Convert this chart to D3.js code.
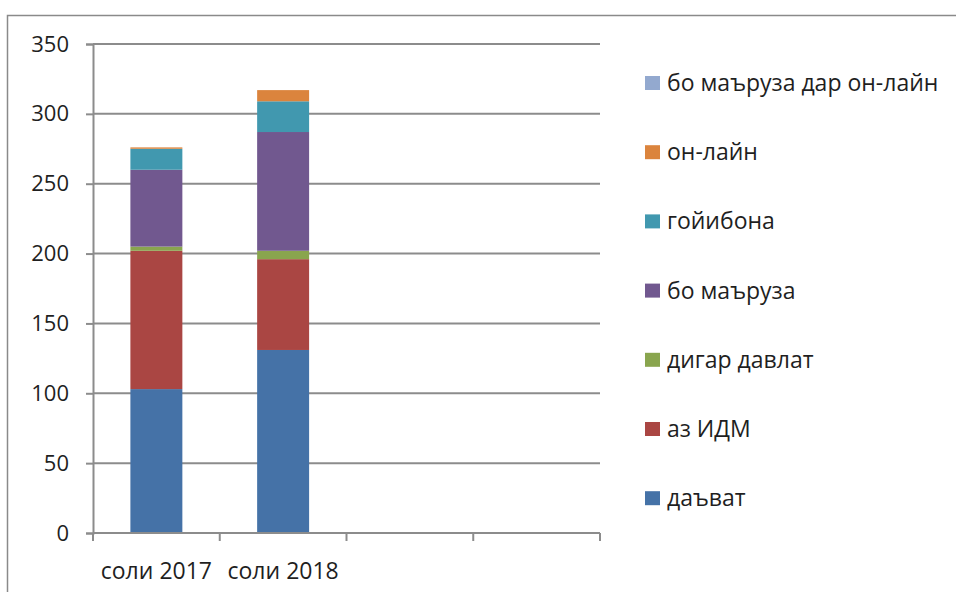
<!DOCTYPE html>
<html lang="tg">
<head>
<meta charset="UTF-8">
<title>stacked bars</title>
<script src="https://d3js.org/d3.v7.min.js"></script>
<style>
  body { margin: 0; background: #fff; }
  text { font-family: "Open Sans", "Noto Sans", sans-serif; fill: #1f1f1f; }
</style>
</head>
<body>
<script>
    // categories (last two are empty slots on the axis)
    categories = ["соли 2017", "соли 2018", "c3", "c4"]
    tickLabels = ["соли 2017", "соли 2018", "", ""]
    yTicks = [0, 50, 100, 150, 200, 250, 300, 350]

    // series, bottom to top
    seriesNames = ["даъват", "аз ИДМ", "дигар давлат", "бо маъруза", "гойибона", "он-лайн", "бо маъруза дар он-лайн"]
    seriesColors = ["#4572A7", "#AA4643", "#89A54E", "#71588F", "#4198AF", "#DB843D", "#93A9CF"]

    davat      = [103, 131]
    azIDM      = [99, 65]
    digar      = [3, 6]
    boMaruza   = [55, 85]
    goyibona   = [15, 22]
    onLayn     = [1, 8]
    maruzaOn   = [0, 0]

    allSeries = [davat, azIDM, digar, boMaruza, goyibona, onLayn, maruzaOn]

    rows = categories.slice(0, 2).map((c, i) => {
        r = {cat: c}
        seriesNames.forEach((s, j) => r[s] = allSeries[j][i])
        return r
    })

    w = 956
    h = 592
    margin = {top: 44, left: 93}
    width = 600 - 93
    height = 533 - 44
    fs = 23

    root = d3.select("body").append("svg")
        .attr("width", w)
        .attr("height", h)

    // outer frame
    root.append("rect")
        .attr("x", 7.5).attr("y", 15.5)
        .attr("width", 1000).attr("height", 1000)
        .attr("fill", "none")
        .attr("stroke", "#8a8a8a")
        .attr("stroke-width", 1.5)

    svg = root.append("g")
        .attr("transform", "translate(" + margin.left + "," + margin.top + ")")

    x = d3.scaleBand()
        .domain(categories)
        .range([0, width])
        .paddingInner(0.59)
        .paddingOuter(0.295)

    y = d3.scaleLinear()
        .domain([0, 350])
        .range([height, 0])

    // gridlines
    svg.append("g")
        .selectAll("line")
        .data(yTicks.slice(1))
        .join("line")
        .attr("x1", 0).attr("x2", width)
        .attr("y1", d => y(d)).attr("y2", d => y(d))
        .attr("stroke", "#8c8c8c")
        .attr("stroke-width", 2)

    // bars
    stack = d3.stack().keys(seriesNames)(rows)

    svg.append("g")
        .selectAll("g")
        .data(stack)
        .join("g")
        .attr("fill", (d, i) => seriesColors[i])
        .selectAll("rect")
        .data(d => d)
        .join("rect")
        .attr("x", d => x(d.data.cat))
        .attr("width", x.bandwidth())
        .attr("y", d => y(d[1]))
        .attr("height", d => y(d[0]) - y(d[1]))

    // y axis
    yAxis = svg.append("g")
        .call(d3.axisLeft(y).tickValues(yTicks).tickSize(7).tickPadding(17))
    yAxis.select(".domain").attr("stroke", "#8c8c8c").attr("stroke-width", 2)
    yAxis.selectAll(".tick line").attr("stroke", "#8c8c8c").attr("stroke-width", 2)
    yAxis.selectAll(".tick text").attr("font-size", fs - 1).attr("font-family", null)

    // x axis, ticks between categories
    xa = svg.append("g").attr("transform", "translate(0," + height + ")")
    xa.append("line")
        .attr("x1", 0).attr("x2", width)
        .attr("stroke", "#8c8c8c").attr("stroke-width", 2)
    bounds = d3.range(categories.length + 1).map(i => i * width / categories.length)
    xa.selectAll("line.tk")
        .data(bounds)
        .join("line")
        .attr("class", "tk")
        .attr("x1", d => d).attr("x2", d => d)
        .attr("y1", 0).attr("y2", 8)
        .attr("stroke", "#8c8c8c").attr("stroke-width", 2)
    xa.selectAll("text")
        .data(categories)
        .join("text")
        .attr("x", d => x(d) + x.bandwidth() / 2)
        .attr("y", 46)
        .attr("text-anchor", "middle")
        .attr("font-size", fs)
        .text((d, i) => tickLabels[i])

    // legend, top entry is the last series
    legend = root.append("g")
        .selectAll("g")
        .data(seriesNames.slice().reverse())
        .join("g")
        .attr("transform", (d, i) => "translate(645," + (83 + i * 69.2) + ")")
    legend.append("rect")
        .attr("x", 0).attr("y", -7)
        .attr("width", 15).attr("height", 14)
        .attr("fill", d => seriesColors[seriesNames.indexOf(d)])
    legend.append("text")
        .attr("x", 22)
        .attr("dy", "0.35em")
        .attr("font-size", fs)
        .text(d => d)
</script>
</body>
</html>
